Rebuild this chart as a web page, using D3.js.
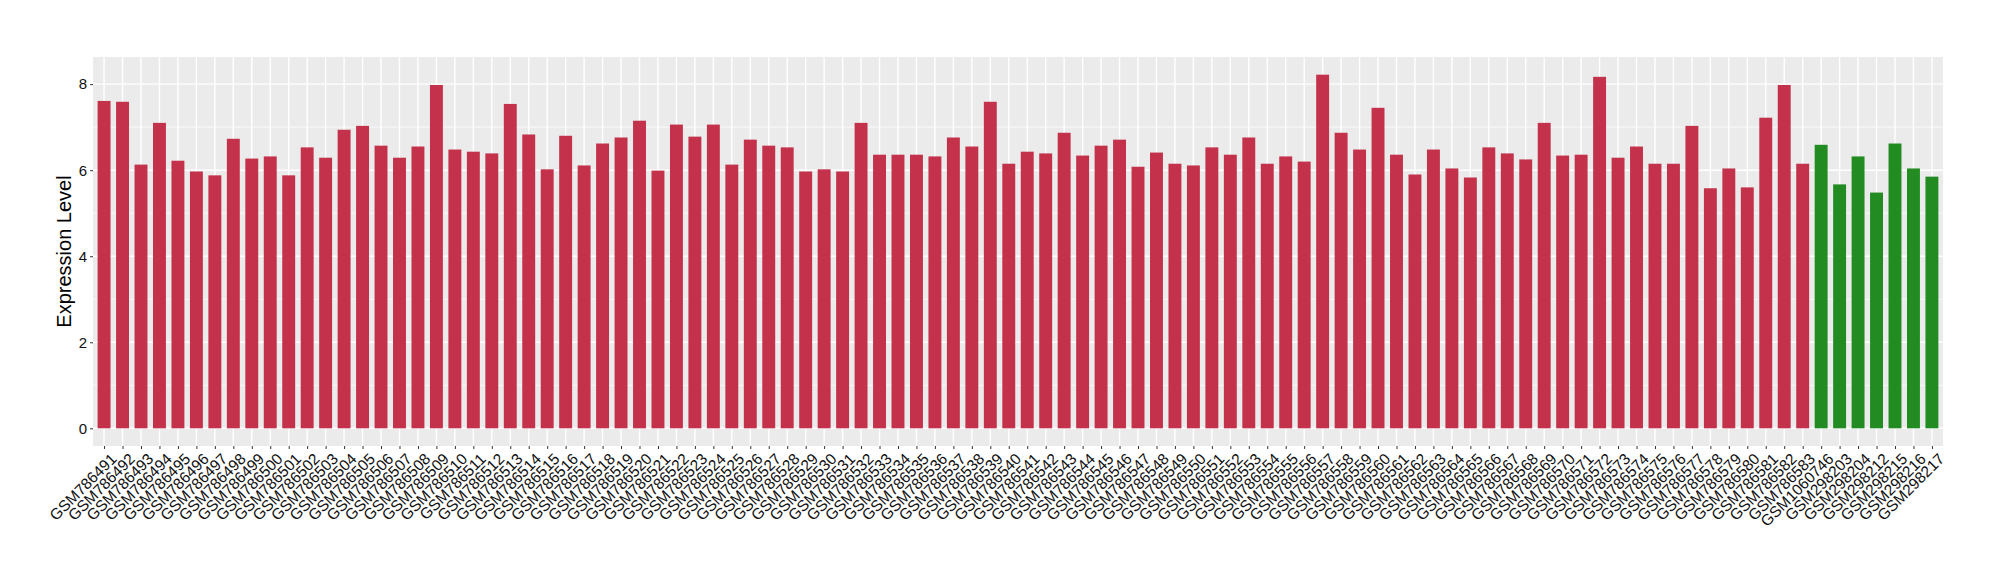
<!DOCTYPE html>
<html>
<head>
<meta charset="utf-8">
<script src="https://cdn.jsdelivr.net/npm/d3@7"></script>
<style>
  body { margin: 0; background: #fff; }
  svg { display: block; font-family: "Liberation Sans", Arial, sans-serif; }
</style>
</head>
<body>
<div id="chart"></div>
<script>
// sample ids, tumour group first then the normal group
var tumourSamples = [];
for (var n = 786491; n <= 786583; n++) tumourSamples.push('GSM' + n);
var normalSamples = ['GSM1060746', 'GSM298203', 'GSM298204', 'GSM298212',
                     'GSM298215', 'GSM298216', 'GSM298217'];

var tumourValues = [
    7.61, 7.59, 6.13, 7.10, 6.22, 5.97, 5.88, 6.73, 6.27, 6.32,
    5.88, 6.53, 6.29, 6.94, 7.03, 6.57, 6.29, 6.55, 7.98, 6.48,
    6.43, 6.39, 7.54, 6.83, 6.02, 6.80, 6.11, 6.62, 6.76, 7.15,
    5.99, 7.06, 6.78, 7.06, 6.13, 6.71, 6.57, 6.53, 5.97, 6.02,
    5.97, 7.10, 6.36, 6.36, 6.36, 6.32, 6.76, 6.55, 7.59, 6.15,
    6.43, 6.39, 6.87, 6.34, 6.57, 6.71, 6.08, 6.41, 6.15, 6.11,
    6.53, 6.36, 6.76, 6.15, 6.32, 6.20, 8.22, 6.87, 6.48, 7.45,
    6.36, 5.90, 6.48, 6.04, 5.83, 6.53, 6.39, 6.25, 7.10, 6.34,
    6.36, 8.17, 6.29, 6.55, 6.15, 6.15, 7.03, 5.58, 6.04, 5.60,
    7.22, 7.98, 6.15
];
var normalValues = [6.59, 5.67, 6.32, 5.48, 6.62, 6.04, 5.85];

var yTicks = [0, 2, 4, 6, 8];
var yMinor = [1, 3, 5, 7];

var groupColors = { tumour: '#C4314B', normal: '#228B22' };

var rows = tumourSamples.map(function(s, i) {
    return { sample: s, value: tumourValues[i], group: 'tumour' };
}).concat(normalSamples.map(function(s, i) {
    return { sample: s, value: normalValues[i], group: 'normal' };
}));

var width = 2000, height = 580;
var margin = { top: 57, right: 57, bottom: 134, left: 93 };
var innerW = width - margin.left - margin.right;
var innerH = height - margin.top - margin.bottom;

var svg = d3.select('#chart').append('svg')
    .attr('width', width)
    .attr('height', height);

var g = svg.append('g')
    .attr('transform', 'translate(' + margin.left + ',' + margin.top + ')');

var x = d3.scalePoint()
    .domain(rows.map(function(d) { return d.sample; }))
    .range([0, innerW])
    .padding(0.6);

var maxVal = d3.max(rows, function(d) { return d.value; });
var pad = maxVal * 0.05;
var y = d3.scaleLinear()
    .domain([-pad, maxVal + pad])
    .range([innerH, 0]);

var barW = x.step() * 0.7;

// panel
g.append('rect')
    .attr('width', innerW)
    .attr('height', innerH)
    .attr('fill', '#EBEBEB');

g.selectAll('line.minor')
    .data(yMinor)
    .enter().append('line')
    .attr('class', 'minor')
    .attr('x1', 0).attr('x2', innerW)
    .attr('y1', function(d) { return y(d); })
    .attr('y2', function(d) { return y(d); })
    .attr('stroke', '#fff')
    .attr('stroke-width', 0.7);

g.selectAll('line.major')
    .data(yTicks)
    .enter().append('line')
    .attr('class', 'major')
    .attr('x1', 0).attr('x2', innerW)
    .attr('y1', function(d) { return y(d); })
    .attr('y2', function(d) { return y(d); })
    .attr('stroke', '#fff')
    .attr('stroke-width', 1.4);

g.selectAll('line.vgrid')
    .data(x.domain())
    .enter().append('line')
    .attr('class', 'vgrid')
    .attr('x1', function(d) { return x(d); })
    .attr('x2', function(d) { return x(d); })
    .attr('y1', 0).attr('y2', innerH)
    .attr('stroke', '#fff')
    .attr('stroke-width', 1.4);

// bars
g.selectAll('rect.bar')
    .data(rows)
    .enter().append('rect')
    .attr('class', 'bar')
    .attr('x', function(d) { return x(d.sample) - barW / 2; })
    .attr('width', barW)
    .attr('y', function(d) { return y(d.value); })
    .attr('height', function(d) { return y(0) - y(d.value); })
    .attr('fill', function(d) { return groupColors[d.group]; });

// axes
var yAxis = g.append('g')
    .call(d3.axisLeft(y).tickValues(yTicks).tickSize(3).tickPadding(3));
yAxis.select('.domain').remove();
yAxis.selectAll('line').attr('stroke', '#333');
yAxis.selectAll('text')
    .attr('fill', '#111')
    .style('font-size', '15px');

var xAxis = g.append('g')
    .attr('transform', 'translate(0,' + innerH + ')')
    .call(d3.axisBottom(x).tickSize(3).tickPadding(2));
xAxis.select('.domain').remove();
xAxis.selectAll('line').attr('stroke', '#333');
xAxis.selectAll('text')
    .attr('fill', '#111')
    .style('font-size', '15.5px')
    .attr('text-anchor', 'end')
    .attr('dy', null)
    .attr('y', 0)
    .attr('dominant-baseline', 'hanging')
    .attr('transform', 'translate(5,6) rotate(-45)');

svg.append('text')
    .attr('transform', 'translate(71,' + (margin.top + innerH / 2) + ') rotate(-90)')
    .attr('text-anchor', 'middle')
    .attr('fill', '#000')
    .style('font-size', '20px')
    .text('Expression Level');
</script>
</body>
</html>
